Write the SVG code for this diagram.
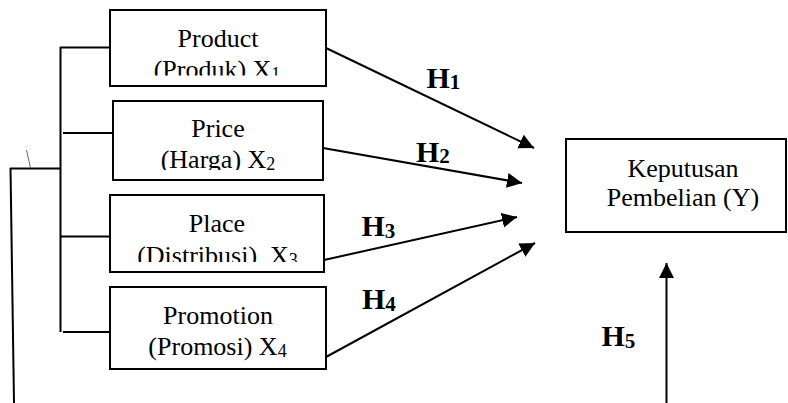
<svg xmlns="http://www.w3.org/2000/svg" width="788" height="403" viewBox="0 0 788 403">
<style>
.box{fill:#fff;stroke:#000;stroke-width:2}
.t{font-family:"Liberation Serif","Times New Roman",serif;font-size:26px;fill:#000;text-anchor:middle;white-space:pre}
.s{font-size:18px}
.h{font-family:"Liberation Serif","Times New Roman",serif;font-size:30px;font-weight:bold;fill:#000}
.hs{font-size:21px}
.ln{stroke:#000;stroke-width:2;fill:none}
.ar{stroke:#000;stroke-width:2;fill:none;marker-end:url(#arr)}
</style>
<defs>
<marker id="arr" markerUnits="userSpaceOnUse" markerWidth="16" markerHeight="16" refX="15" refY="7.5" orient="auto">
<path d="M0,0 L15,7.5 L0,15 z" fill="#000"/>
</marker>
<clipPath id="c1"><rect x="110" y="10" width="216" height="65.5"/></clipPath>
<clipPath id="c2"><rect x="113" y="101" width="210" height="69"/></clipPath>
<clipPath id="c3"><rect x="110" y="195" width="214" height="67"/></clipPath>
</defs>
<g id="connectors">
<line class="ln" x1="60.5" y1="47" x2="60.5" y2="332"/>
<line class="ln" x1="60" y1="47.5" x2="110" y2="47.5"/>
<line class="ln" x1="63" y1="133" x2="113" y2="133"/>
<line class="ln" x1="61" y1="236.5" x2="110" y2="236.5"/>
<line class="ln" x1="63" y1="332" x2="110" y2="332"/>
<line class="ln" x1="10" y1="168.5" x2="61" y2="168.5"/>
<line class="ln" x1="10.5" y1="168" x2="14" y2="403"/>
<line x1="26.5" y1="150" x2="30.5" y2="168" stroke="#666" stroke-width="1"/>
<line class="ar" x1="326" y1="48" x2="534" y2="148"/>
<line class="ar" x1="323" y1="148" x2="522" y2="183"/>
<line class="ar" x1="324" y1="260" x2="517" y2="217"/>
<line class="ar" x1="326" y1="357" x2="535" y2="243"/>
<line class="ar" x1="666.5" y1="403" x2="666.5" y2="263"/>
</g>
<g id="product">
<rect class="box" x="110" y="10" width="216" height="76"/>
<g clip-path="url(#c1)">
<text class="t" x="218" y="46.5">Product</text>
<text class="t" x="217" y="78">(Produk) X<tspan class="s" dy="2">1</tspan></text>
</g>
</g>
<g id="price">
<rect class="box" x="113" y="101" width="210" height="79"/>
<g clip-path="url(#c2)">
<text class="t" x="218" y="137">Price</text>
<text class="t" x="218" y="168">(Harga) X<tspan class="s" dy="2">2</tspan></text>
</g>
</g>
<g id="place">
<rect class="box" x="110" y="195" width="214" height="77"/>
<g clip-path="url(#c3)">
<text class="t" x="217" y="232">Place</text>
<text class="t" x="217.5" y="264">(Distribusi)  X<tspan class="s" dy="2">3</tspan></text>
</g>
</g>
<g id="promotion">
<rect class="box" x="110" y="287" width="216" height="82"/>
<text class="t" x="218" y="323.5">Promotion</text>
<text class="t" x="217.5" y="355">(Promosi) X<tspan class="s" dy="1.5">4</tspan></text>
</g>
<g id="keputusan">
<rect class="box" x="566" y="139" width="220" height="93"/>
<text class="t" x="683" y="176.5">Keputusan</text>
<text class="t" x="683" y="206">Pembelian (Y)</text>
</g>
<g id="labels">
<text class="h" x="426.5" y="88">H<tspan class="hs" dy="1">1</tspan></text>
<text class="h" x="416" y="161.5">H<tspan class="hs" dy="1">2</tspan></text>
<text class="h" x="361.5" y="236">H<tspan class="hs" dy="1.5">3</tspan></text>
<text class="h" x="362" y="308.5">H<tspan class="hs" dy="2">4</tspan></text>
<text class="h" x="601.5" y="346">H<tspan class="hs" dy="2">5</tspan></text>
</g>
</svg>
